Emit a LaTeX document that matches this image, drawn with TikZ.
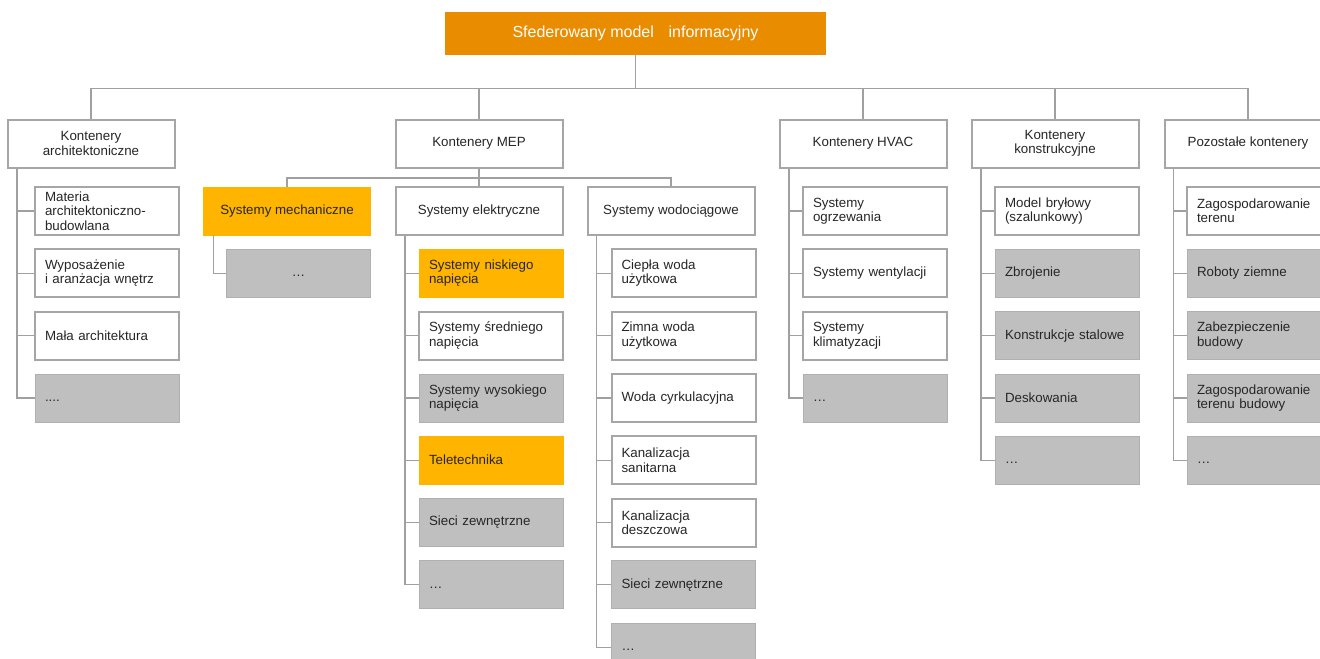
\documentclass[tikz,border=0pt]{standalone}
\usepackage{fontspec}
\setmainfont{Liberation Sans}
\definecolor{rootc}{HTML}{E98C00}
\definecolor{orc}{HTML}{FFB400}
\definecolor{grc}{HTML}{BFBFBF}
\definecolor{bdc}{HTML}{A6A6A6}
\definecolor{lnc}{HTML}{A0A0A0}
\definecolor{txc}{HTML}{262626}
\newcommand{\dotsx}{\vphantom{Xg}…}
\begin{document}
\begin{tikzpicture}[x=0.75pt,y=-0.75pt,
 base/.style={font=\fontsize{10}{10.8}\selectfont, text=txc},
 rootbox/.style={fill=rootc, draw=none, minimum width=285.75pt, minimum height=32.25pt, text=white, font=\fontsize{12}{14}\selectfont, inner sep=0pt},
 topbox/.style={base, draw=bdc, line width=1.5pt, fill=white, minimum width=125.25pt, minimum height=36pt, align=center, inner sep=0pt},
 leafw/.style={base, draw=bdc, line width=1.5pt, fill=white, minimum width=108pt, minimum height=36pt, text width=93pt, align=left, inner xsep=7.5pt, inner ysep=0pt},
 leafg/.style={leafw, fill=grc, draw=grc!92!black, line width=0.6pt},
 leafo/.style={leafw, fill=orc, draw=orc, line width=0.6pt},
 conn/.style={draw=lnc, line width=0.9pt},
]
\useasboundingbox (0,0) rectangle (1320,658);
\clip (0,0) rectangle (1320,658);

% root
\node[rootbox] (root) at (635.5,33.5) {Sfederowany model\hspace{11pt}informacyjny};

% level 1
\node[topbox] (arch) at (91,143.5) {Kontenery\\architektoniczne};
\node[topbox] (mep) at (479,143.5) {Kontenery MEP};
\node[topbox] (hvac) at (863,143.5) {Kontenery HVAC};
\node[topbox] (kon) at (1055,143.5) {Kontenery\\konstrukcyjne};
\node[topbox] (poz) at (1248,143.5) {Pozostałe kontenery};

% level 2 (MEP)
\node[topbox, fill=orc, draw=orc, line width=0.6pt] (mech) at (287,211) {Systemy mechaniczne};
\node[topbox] (ele) at (479,211) {Systemy elektryczne};
\node[topbox] (wod) at (671,211) {Systemy wodociągowe};

% architecture children
\node[leafw] (a1) at (107,211) {Materia\\architektoniczno-\\budowlana};
\node[leafw] (a2) at (107,273.3) {Wyposażenie\\i aranżacja wnętrz};
\node[leafw] (a3) at (107,335.6) {Mała architektura};
\node[leafg] (a4) at (107,397.9) {\vphantom{Xg}....};

% mechanical child
\node[leafg, align=center] (m1) at (298.5,273.3) {\dotsx};

% electrical children
\node[leafo] (e1) at (491,273.3) {Systemy niskiego\\napięcia};
\node[leafw] (e2) at (491,335.6) {Systemy średniego\\napięcia};
\node[leafg] (e3) at (491,397.9) {Systemy wysokiego\\napięcia};
\node[leafo] (e4) at (491,460.2) {Teletechnika};
\node[leafg] (e5) at (491,522.5) {Sieci zewnętrzne};
\node[leafg] (e6) at (491,584.8) {\dotsx};

% water children
\node[leafw] (w1) at (683.5,273.3) {Ciepła woda\\użytkowa};
\node[leafw] (w2) at (683.5,335.6) {Zimna woda\\użytkowa};
\node[leafw] (w3) at (683.5,397.9) {Woda cyrkulacyjna};
\node[leafw] (w4) at (683.5,460.2) {Kanalizacja\\sanitarna};
\node[leafw] (w5) at (683.5,522.5) {Kanalizacja\\deszczowa};
\node[leafg] (w6) at (683.5,584.8) {Sieci zewnętrzne};
\node[leafg] (w7) at (683.5,647.1) {\dotsx};

% HVAC children
\node[leafw] (h1) at (875,211) {Systemy\\ogrzewania};
\node[leafw] (h2) at (875,273.3) {Systemy wentylacji};
\node[leafw] (h3) at (875,335.6) {Systemy\\klimatyzacji};
\node[leafg] (h4) at (875,397.9) {\dotsx};

% construction children
\node[leafw] (k1) at (1067,211) {Model bryłowy\\(szalunkowy)};
\node[leafg] (k2) at (1067,273.3) {Zbrojenie};
\node[leafg] (k3) at (1067,335.6) {Konstrukcje stalowe};
\node[leafg] (k4) at (1067,397.9) {Deskowania};
\node[leafg] (k5) at (1067,460.2) {\dotsx};

% other children
\node[leafw] (p1) at (1259,211) {Zagospodarowanie\\terenu};
\node[leafg] (p2) at (1259,273.3) {Roboty ziemne};
\node[leafg] (p3) at (1259,335.6) {Zabezpieczenie\\budowy};
\node[leafg] (p4) at (1259,397.9) {Zagospodarowanie\\terenu budowy};
\node[leafg] (p5) at (1259,460.2) {\dotsx};

% main bus
\foreach \t in {arch,mep,hvac,kon,poz}
  \draw[conn] (root.south) -- ++(0,33) -| (\t.north);

% MEP sub bus
\foreach \t in {mech,ele,wod}
  \draw[conn] (mep.south) -- ++(0,9.5) -| (\t.north);

% child connectors
\coordinate (archv) at ([xshift=7.9pt]arch.south west);
\foreach \c in {a1,a2,a3,a4} \draw[conn] (archv) |- (\c.west);
\coordinate (mechv) at ([xshift=7.5pt]mech.south west);
\draw[conn] (mechv) |- (m1.west);
\coordinate (elev) at ([xshift=7.9pt]ele.south west);
\foreach \c in {e1,e2,e3,e4,e5,e6} \draw[conn] (elev) |- (\c.west);
\coordinate (wodv) at ([xshift=7.5pt]wod.south west);
\foreach \c in {w1,w2,w3,w4,w5,w6,w7} \draw[conn] (wodv) |- (\c.west);
\coordinate (hvacv) at ([xshift=7.9pt]hvac.south west);
\foreach \c in {h1,h2,h3,h4} \draw[conn] (hvacv) |- (\c.west);
\coordinate (konv) at ([xshift=7.9pt]kon.south west);
\foreach \c in {k1,k2,k3,k4,k5} \draw[conn] (konv) |- (\c.west);
\coordinate (pozv) at ([xshift=7.5pt]poz.south west);
\foreach \c in {p1,p2,p3,p4,p5} \draw[conn] (pozv) |- (\c.west);
\end{tikzpicture}
\end{document}
